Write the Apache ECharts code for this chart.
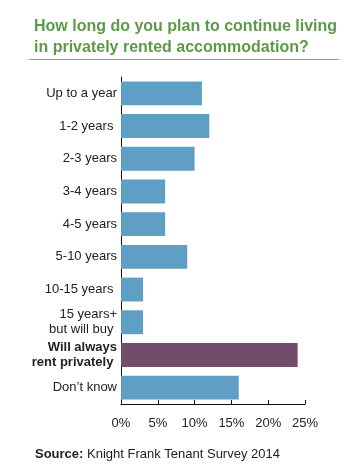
<!DOCTYPE html>
<html>
<head>
<meta charset="utf-8">
<script src="https://cdn.jsdelivr.net/npm/echarts@6/dist/echarts.min.js"></script>
<style>
html,body{margin:0;padding:0;background:#fff;}
#chart{width:357px;height:468px;}
</style>
</head>
<body>
<div id="chart"></div>
<script>
var categories = ["Up to a year", "1-2 years ", "2-3 years", "3-4 years", "4-5 years", "5-10 years", "10-15 years ", "15 years+\nbut will buy ", "Will always\nrent privately ", "Don\u2019t know"];
var values = [11, 12, 10, 6, 6, 9, 3, 3, 24, 16];
var highlightCategory = "Will always\nrent privately ";
var tickValues = [0, 5, 10, 15, 20, 25];
var titleText = "How long do you plan to continue living\nin privately rented accommodation?";
var sourceLabel = "Source:";
var sourceText = " Knight Frank Tenant Survey 2014";

var FONT = '"Liberation Sans", Arial, Helvetica, sans-serif';
var BLUE = '#5f9fc6';
var PURPLE = '#714d6b';

var chart = echarts.init(document.getElementById('chart'), null, {renderer: 'canvas'});

var yData = categories.slice().reverse().map(function (c) {
  return c === highlightCategory ? {value: c, textStyle: {fontWeight: 'bold'}} : c;
});
var barData = values.slice().reverse().map(function (v, i) {
  var c = categories[categories.length - 1 - i];
  return {value: v, itemStyle: {color: c === highlightCategory ? PURPLE : BLUE}};
});

chart.setOption({
  animation: false,
  backgroundColor: '#fff',
  textStyle: {fontFamily: FONT},
  title: {
    text: titleText,
    left: 29,
    top: 11,
    textStyle: {fontFamily: FONT, fontSize: 16, fontWeight: 'bold', color: '#5c9a48', lineHeight: 21}
  },
  grid: {left: 121, right: 52, top: 77, bottom: 64, containLabel: false},
  xAxis: {
    type: 'value',
    min: tickValues[0],
    max: tickValues[tickValues.length - 1],
    interval: 5,
    axisLine: {show: true, lineStyle: {color: '#111', width: 1}},
    axisTick: {show: true, inside: true, length: 4, lineStyle: {color: '#111'}},
    splitLine: {show: false},
    axisLabel: {
      formatter: function (v) { return v + '%'; },
      fontFamily: FONT, fontSize: 13, color: '#222', margin: 13
    }
  },
  yAxis: {
    type: 'category',
    data: yData,
    axisLine: {show: true, lineStyle: {color: '#111', width: 1}},
    axisTick: {show: false},
    axisLabel: {fontFamily: FONT, fontSize: 13, color: '#222', margin: 4, lineHeight: 15}
  },
  series: [{
    type: 'bar',
    data: barData,
    barCategoryGap: '27%'
  }],
  graphic: [
    {
      type: 'line',
      shape: {x1: 29, y1: 59.5, x2: 339, y2: 59.5},
      style: {stroke: '#9a9a9a', lineWidth: 1}
    },
    {
      type: 'text',
      x: 35,
      y: 454,
      style: {
        text: '{b|' + sourceLabel + '}{n|' + sourceText + '}',
        verticalAlign: 'middle',
        rich: {
          b: {fontFamily: FONT, fontSize: 13, fontWeight: 'bold', fill: '#222'},
          n: {fontFamily: FONT, fontSize: 13, fill: '#222'}
        }
      }
    }
  ]
});
</script>
</body>
</html>
